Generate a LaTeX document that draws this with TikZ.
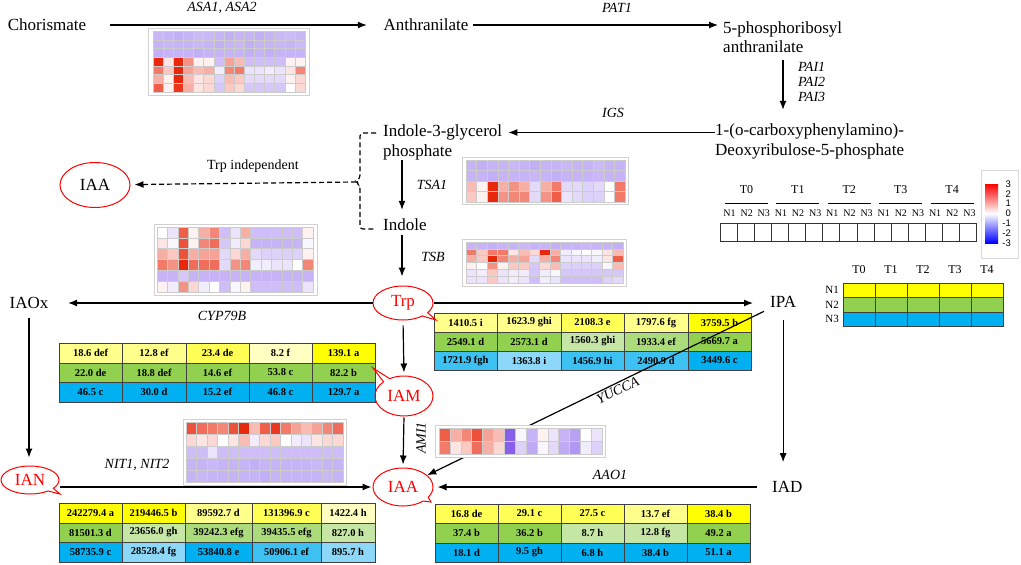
\documentclass[tikz,border=0pt]{standalone}
\usepackage{fontspec}
\setmainfont{Liberation Serif}
\newfontfamily\cbfont{Liberation Sans}
\usetikzlibrary{arrows.meta,shapes.geometric,shapes.callouts}
\definecolor{hmred}{RGB}{232,40,12}
\definecolor{hmblue}{RGB}{135,95,235}
\definecolor{Y1}{HTML}{FFFF00}
\definecolor{Y2}{HTML}{FFFF55}
\definecolor{Y3}{HTML}{FFFF8C}
\definecolor{Y4}{HTML}{FFFFC2}
\definecolor{G1}{HTML}{92D050}
\definecolor{G2}{HTML}{ACDB7C}
\definecolor{G3}{HTML}{C6E6A6}
\definecolor{B1}{HTML}{00B0F0}
\definecolor{B2}{HTML}{3DC1F2}
\definecolor{B3}{HTML}{8DD8F8}
\definecolor{tabline}{HTML}{404040}
\newcommand\hmapdraw[5]{%
  \foreach \hrow [count=\ri] in {#5} {
    \foreach \hv [count=\ci] in \hrow {
      \ifnum\hv<0\relax
        \pgfmathtruncatemacro\hav{min(100,-\hv*1.2)}\colorlet{hc}{hmblue!\hav!white}%
      \else
        \pgfmathtruncatemacro\hpv{min(100,\hv*1.25)}\colorlet{hc}{hmred!\hpv!white}%
      \fi
      \path[fill=hc, draw=black!20, line width=0.35pt]
        ({#1+(\ci-1)*#3},{#2+(\ri-1)*#4}) rectangle ++(#3,#4);
    }
  }}
\newcommand\tblrow[4]{%
  \foreach \xa/\xb/\cellc/\cellt [count=\ci] in {#4} {
    \path[draw=tabline, line width=0.6pt, fill=\cellc] (\xa,#2) rectangle (\xb,#3);
    \node[tabtxt] (#1-\ci) at ({(\xa+\xb)/2},{(#2+#3)/2}) {\cellt};
  }}
\begin{document}
\begin{tikzpicture}[x=1pt,y=-1pt,
  lbl/.style={font=\fontsize{17}{19.5}\selectfont, inner sep=0pt},
  gene/.style={font=\fontsize{14}{15}\selectfont\itshape, inner sep=0pt},
  plain/.style={font=\fontsize{14}{15}\selectfont, inner sep=0pt},
  arr/.style={-{Latex[length=9pt,width=7pt]}, line width=1.2pt},
  bubble/.style={ellipse callout, draw=red, line width=1pt, text=red,
    font=\fontsize{17}{19.5}\selectfont, inner sep=0pt},
  tabtxt/.style={font=\fontsize{10.5}{12}\selectfont\bfseries, inner sep=0pt},
  hframe/.style={fill=white, draw=black!18, line width=0.6pt},
  legtxt/.style={font=\fontsize{12}{13}\selectfont, inner sep=0pt},
  nltxt/.style={font=\fontsize{10}{11}\selectfont, inner sep=0pt}]
\useasboundingbox[fill=white] (0,0) rectangle (1021,565);

% ---------------- heat maps ----------------
\path[hframe] (148,28) rectangle (309,95);
\hmapdraw{153}{31}{10.13}{8.71}{
 {-38,-40,-42,-40,-36,-38,-40,-42,-40,-40,-42,-40,-38,-36,-38},
 {-40,-38,-40,-40,-38,-40,-42,-40,-38,-42,-40,-40,-38,-40,-36},
 {-42,-40,-40,-40,-42,-40,-40,-40,-40,-42,-40,-42,-40,-40,-40},
 {100,10,100,40,5,5,-35,35,25,-35,-35,-35,-35,5,5},
 {50,20,100,35,25,30,-10,45,50,-15,-15,-10,-15,10,45},
 {30,5,90,25,10,15,-25,25,20,-20,-20,-20,-20,5,15},
 {60,5,75,30,10,15,-30,20,15,-30,-30,-30,-30,0,15}}

\path[hframe] (462,157) rectangle (628,204);
\hmapdraw{466}{160}{10.6}{10.5}{
 {-40,-42,-40,-40,-38,-40,-42,-40,-40,-38,-40,-40,-36,-40,-40},
 {-40,-40,-42,-40,-40,-40,-38,-40,-42,-40,-40,-40,-38,-40,-40},
 {25,5,100,30,40,30,-20,30,50,-20,-20,-25,-20,0,50},
 {20,5,100,40,45,45,-20,40,60,-15,-20,-25,-25,0,50}}

\path[hframe] (462,239) rectangle (626,286);
\hmapdraw{466}{242}{10.47}{6.83}{
 {-40,-40,-42,-40,-40,-38,-40,-40,-42,-40,-40,-38,-40,-40,-42},
 {50,20,50,50,10,25,15,100,30,-10,-5,0,-5,10,25},
 {30,20,100,45,30,35,-20,30,45,-15,-15,-15,-10,10,60},
 {5,0,40,5,20,20,-30,15,25,-25,-25,-25,-25,-5,25},
 {-15,-10,20,-15,-10,-10,-30,-10,-5,-30,-30,-30,-30,-30,-30},
 {-15,-15,20,-15,-10,-15,-35,-10,-15,-35,-35,-35,-35,-25,-20}}

\path[hframe] (154,224) rectangle (317,295);
\hmapdraw{157}{227}{10.4}{10.83}{
 {0,-15,60,5,30,45,-35,-15,30,-35,-35,-35,-35,-35,5},
 {10,-5,65,5,45,55,-30,-10,15,-40,-40,-40,-40,-40,-5},
 {30,20,65,30,35,35,-20,15,30,-20,-25,-25,-25,-25,5},
 {50,40,85,55,55,55,-20,40,45,-10,-10,-15,-15,0,45},
 {-40,-40,-30,-40,-40,-40,-40,-40,-40,-40,-40,-40,-40,-40,-40},
 {5,-10,40,15,-10,0,-35,-5,5,-35,-35,-35,-35,-35,-15}}

\path[hframe] (183,419) rectangle (346,485);
\hmapdraw{186}{422}{10.47}{12}{
 {65,55,50,45,65,100,25,60,75,50,35,25,35,45,55},
 {15,10,15,0,10,25,-10,15,20,0,-10,-15,10,15,15},
 {-35,-35,-15,-35,-35,-35,-35,-35,-35,-35,-35,-35,-35,-35,-35},
 {-40,-40,-38,-40,-40,-40,-42,-40,-40,-40,-40,-40,-38,-40,-40},
 {-40,-38,-40,-40,-40,-40,-40,-42,-40,-40,-40,-40,-40,-38,-40}}

% ---------------- tables ----------------
\tblrow{ta1}{313}{332}{434/497/Y3/1410.5 i,497/561/Y3/1623.9 ghi,561/624/Y2/2108.3 e,624/688/Y3/1797.6 fg,688/751/Y1/3759.5 b}
\tblrow{ta2}{332}{351}{434/497/G1/2549.1 d,497/561/G1/2573.1 d,561/624/G3/1560.3 ghi,624/688/G2/1933.4 ef,688/751/G1/5669.7 a}
\tblrow{ta3}{351}{370}{434/497/B2/1721.9 fgh,497/561/B3/1363.8 i,561/624/B2/1456.9 hi,624/688/B2/2490.9 d,688/751/B1/3449.6 c}

\tblrow{tb1}{343}{363}{59/122/Y3/18.6 def,122/186/Y3/12.8 ef,186/249/Y2/23.4 de,249/312/Y4/8.2 f,312/375/Y1/139.1 a}
\tblrow{tb2}{363}{382}{59/122/G1/22.0 de,122/186/G1/18.8 def,186/249/G1/14.6 ef,249/312/G1/53.8 c,312/375/G1/82.2 b}
\tblrow{tb3}{382}{402}{59/122/B1/46.5 c,122/186/B1/30.0 d,186/249/B1/15.2 ef,249/312/B1/46.8 c,312/375/B1/129.7 a}

\tblrow{tc1}{503}{523}{59/122/Y1/242279.4 a,122/185/Y1/219446.5 b,185/252/Y3/89592.7 d,252/321/Y2/131396.9 c,321/375/Y4/1422.4 h}
\tblrow{tc2}{523}{542}{59/122/G1/81501.3 d,122/185/G3/23656.0 gh,185/252/G2/39242.3 efg,252/321/G2/39435.5 efg,321/375/G3/827.0 h}
\tblrow{tc3}{542}{562}{59/122/B1/58735.9 c,122/185/B3/28528.4 fg,185/252/B1/53840.8 e,252/321/B2/50906.1 ef,321/375/B3/895.7 h}

\tblrow{td1}{504}{523}{435/498/Y2/16.8 de,498/561/Y2/29.1 c,561/624/Y2/27.5 c,624/687/Y3/13.7 ef,687/750/Y1/38.4 b}
\tblrow{td2}{523}{543}{435/498/G1/37.4 b,498/561/G1/36.2 b,561/624/G3/8.7 h,624/687/G3/12.8 fg,687/750/G1/49.2 a}
\tblrow{td3}{543}{562}{435/498/B1/18.1 d,498/561/B1/9.5 gh,561/624/B1/6.8 h,624/687/B1/38.4 b,687/750/B1/51.1 a}

% ---------------- metabolite nodes ----------------
\node[lbl] (chor) at (47,25) {Chorismate};
\node[lbl] (anth) at (426,25) {Anthranilate};
\node[lbl, anchor=west, align=left] (prib) at (723,37) {5-phosphoribosyl\\anthranilate};
\node[lbl, anchor=west, align=left] (cdrp) at (715,141.5) {1-(o-carboxyphenylamino)-\\Deoxyribulose-5-phosphate};
\node[lbl, anchor=west, align=left] (igp) at (383,142.5) {Indole-3-glycerol\\phosphate};
\node[lbl, anchor=west] (indole) at (383,225) {Indole};
\node[lbl, ellipse, draw=red, line width=1pt, minimum width=70pt, minimum height=45pt] (iaal) at (95,185) {IAA};
\node[bubble, minimum width=60pt, minimum height=34pt, callout absolute pointer={(436,320)}] (trp) at (403,303) {Trp};
\node[lbl] (iaox) at (29,303) {IAOx};
\node[lbl, anchor=west] (ipa) at (770,302) {IPA};
\node[bubble, minimum width=58pt, minimum height=40pt, callout absolute pointer={(373,368)}] (iam) at (404,396) {IAM};
\node[bubble, minimum width=58pt, minimum height=28pt, callout absolute pointer={(60,494)}] (ian) at (30,480) {IAN};
\node[bubble, minimum width=60pt, minimum height=38pt, callout absolute pointer={(431,502)}] (iaab) at (403,487) {IAA};
\node[lbl, anchor=west] (iad) at (772,487) {IAD};

% ---------------- connectors ----------------
\draw[arr, shorten <=24pt, shorten >=16.5pt] (chor.east) -- (anth.west);
\draw[arr, shorten <=4.5pt, shorten >=5pt] (anth.east) -- (anth.east -| prib.west);
\draw[arr, shorten <=7pt, shorten >=14pt] ([xshift=60pt]prib.south west) -- ([xshift=60pt]prib.south west |- cdrp.north);
\draw[arr, shorten >=6pt] ([yshift=9pt]cdrp.west) -- ([yshift=9pt]cdrp.west -| igp.east);
\draw[arr, shorten >=9pt] ([xshift=19pt]igp.south west) -- ([xshift=19pt]indole.north west);
\draw[arr, shorten <=4pt, shorten >=9pt] ([xshift=19pt]indole.south west) -- ([xshift=19pt]indole.south west |- trp.north);
\draw[arr, shorten <=5pt, shorten >=3pt] (trp.south) -- (iam.north);
\draw[arr, shorten <=1pt, shorten >=3pt] (iam.south) -- (iaab.north);
\draw[arr, shorten >=19.5pt] (trp.west) -- (iaox.east);
\draw[arr, shorten >=17pt] (trp.east) -- (trp.east -| ipa.west);
\draw[arr, shorten <=12pt, shorten >=19pt] (ipa.south) -- (ipa.south |- iad.north);
\draw[arr, shorten <=9pt, shorten >=8pt] (iaox.south) -- (iaox.south |- ian.north);
\draw[arr, shorten >=1pt] (ian.east |- iaab.west) -- (iaab.west);
\draw[arr, shorten <=15pt, shorten >=4pt] (iad.west) -- (iaab.east);
\draw[arr, shorten <=8pt] (ipa) -- (iaab)
  node[gene, pos=0.455, sloped, below=1.5pt] (yucca) {YUCCA};

% Trp-independent brace
\coordinate (brtip) at (356,182);
\draw[dash pattern=on 5pt off 3pt, line width=1.2pt, rounded corners=3pt]
  (376,133) -- (360,133) -- (360,178) -- (brtip) -- (360,186) -- (360,229) -- (376,229);
\draw[arr, dash pattern=on 5pt off 3pt, shorten >=4pt] (brtip) -- (iaal);

% AMI1 heat map drawn over the YUCCA line
\path[hframe] (435,425) rectangle (605,457);
\hmapdraw{439}{428}{10.87}{13}{
 {60,30,45,65,35,25,-100,-5,-40,5,-15,-40,-50,0,-15},
 {50,10,20,55,30,15,-100,-25,-45,-5,-20,-45,-55,-10,-25}}

% ---------------- enzyme labels ----------------
\node[gene] (asa) at (222,8) {ASA1, ASA2};
\node[gene] (pat) at (617,8) {PAT1};
\node[gene, anchor=west, align=left] (pai) at (798,82) {PAI1\\PAI2\\PAI3};
\node[gene] (igs) at (613,113) {IGS};
\node[gene] (tsa) at (432,185) {TSA1};
\node[gene] (tsb) at (433,257) {TSB};
\node[plain] (trpind) at (253,166) {Trp independent};
\node[gene] (cyp) at (222,316) {CYP79B};
\node[gene] (nit) at (137,465) {NIT1, NIT2};
\node[gene] (aao) at (610,475) {AAO1};
\node[gene, rotate=90] (ami) at (421,438) {AMI1};

% ---------------- legend: sample layout ----------------
\foreach \g in {0,...,4} {
  \node[legtxt] (tl\g) at ({720+\g*51.4+26.5},190) {T\g};
  \draw[line width=1pt] ({720+\g*51.4+5},203) -- ({720+\g*51.4+48},203);
}
\foreach \b in {0,...,14} {
  \pgfmathtruncatemacro\nn{mod(\b,3)+1}
  \node[nltxt] (nl\b) at ({720+(\b+0.5)*17.13+1},213) {N\nn};
  \path[draw=black!80, line width=1pt] ({720+\b*17.13},223) rectangle ++(17.13,18);
}

% colour bar
\path[fill=white, draw=black!15, line width=0.6pt] (981,170) rectangle (1018,258);
\shade[top color=red, bottom color=blue, middle color=white] (985,184) rectangle (998,243);
\foreach \v [count=\i] in {3,2,1,0,-1,-2,-3} {
  \node[font=\cbfont\fontsize{9.5}{10}\selectfont, inner sep=0pt, anchor=east] (cb\i) at (1011,{184+(\i-1)*9.8}) {\v};
}

% ---------------- legend: colour rows ----------------
\foreach \g in {0,...,4} {
  \node[legtxt] (tt\g) at ({859+\g*32},270) {T\g};
}
\tblrow{lg1}{283}{297.5}{843/875/Y1/,875/907/Y1/,907/939/Y1/,939/971/Y1/,971/1003/Y1/}
\tblrow{lg2}{297.5}{312}{843/875/G1/,875/907/G1/,907/939/G1/,939/971/G1/,971/1003/G1/}
\tblrow{lg3}{312}{326.5}{843/875/B1/,875/907/B1/,907/939/B1/,939/971/B1/,971/1003/B1/}
\node[legtxt, font=\fontsize{11}{12}\selectfont, anchor=east] (ln1) at (839,290) {N1};
\node[legtxt, font=\fontsize{11}{12}\selectfont, anchor=east] (ln2) at (839,305) {N2};
\node[legtxt, font=\fontsize{11}{12}\selectfont, anchor=east] (ln3) at (839,319) {N3};
\end{tikzpicture}
\end{document}
